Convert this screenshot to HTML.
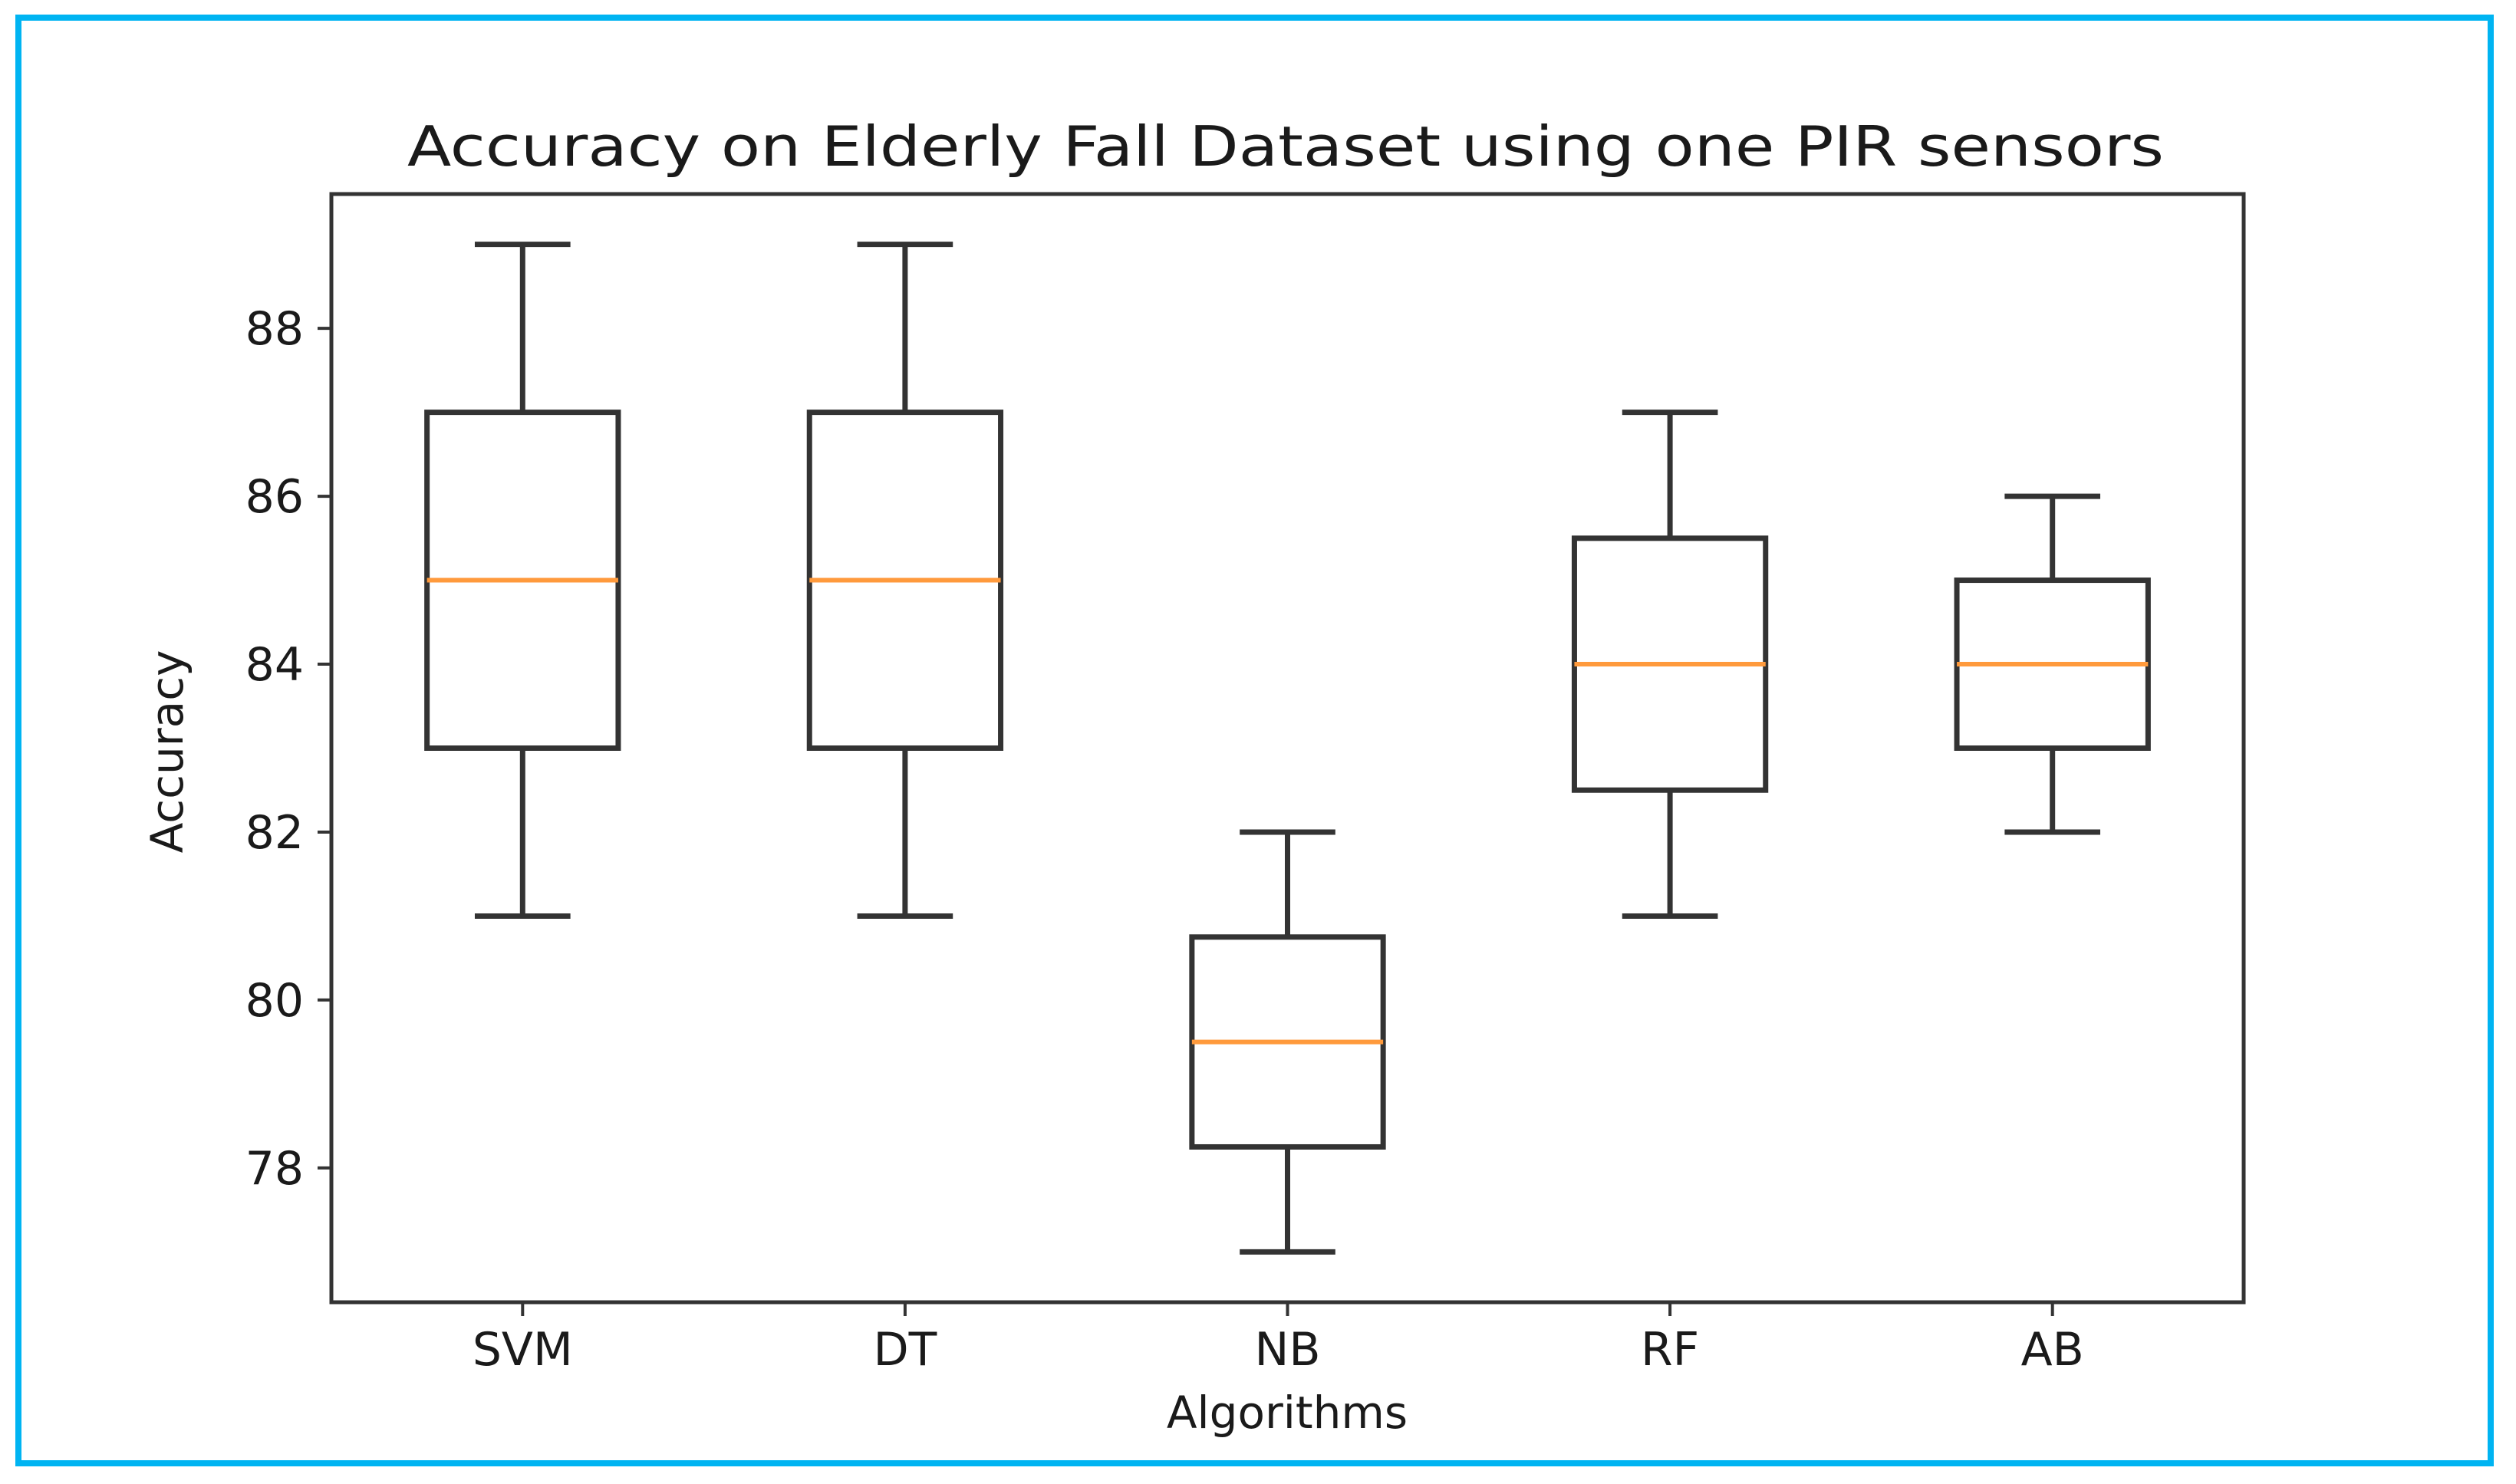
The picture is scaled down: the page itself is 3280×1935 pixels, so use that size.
<!DOCTYPE html>
<html><head><meta charset="utf-8"><style>
html,body{margin:0;padding:0;background:#fff;}
svg{display:block;}
text{font-family:"DejaVu Sans","Liberation Sans",sans-serif;fill:#1a1a1a;}
</style></head><body>
<svg id="chart" width="3280" height="1935" viewBox="0 0 3280 1935" xmlns="http://www.w3.org/2000/svg">
<rect x="0" y="0" width="3280" height="1935" fill="#fff"/>
<rect x="24" y="23" width="3223" height="1885" fill="none" stroke="#00B4F2" stroke-width="8"/>
<text x="1676" y="216" font-size="72" text-anchor="middle" textLength="2290" lengthAdjust="spacingAndGlyphs">Accuracy on Elderly Fall Dataset using one PIR sensors</text>
<g id="marks"></g>
<rect x="432" y="253" width="2493" height="1445" fill="none" stroke="#333" stroke-width="5"/>
<text x="1678" y="1862" font-size="58" text-anchor="middle">Algorithms</text>
<text x="0" y="0" font-size="58" text-anchor="middle" transform="translate(238,980) rotate(-90)">Accuracy</text>
</svg>
<script>
const categories = ["SVM","DT","NB","RF","AB"];
const whiskerLow = [81, 81, 77, 81, 82];
const q1 = [83, 83, 78.25, 82.5, 83];
const medians = [85, 85, 79.5, 84, 84];
const q3 = [87, 87, 80.75, 85.5, 85];
const whiskerHigh = [89, 89, 82, 87, 86];
const yTicks = [78, 80, 82, 84, 86, 88];

const NS = "http://www.w3.org/2000/svg";
const plotL = 432, plotR = 2925, plotT = 253, plotB = 1698;
const yMin = 76.4, yMax = 89.6;
function yScale(v){ return plotB - (v - yMin) / (yMax - yMin) * (plotB - plotT); }
const step = (plotR - plotL) / categories.length;
function xScale(i){ return plotL + step * (i + 0.5); }
const g = document.getElementById('marks');
const svg = document.getElementById('chart');
function line(x1,y1,x2,y2,stroke,w,name){
  const l = document.createElementNS(NS,'line');
  l.setAttribute('x1',x1);l.setAttribute('y1',y1);l.setAttribute('x2',x2);l.setAttribute('y2',y2);
  l.setAttribute('stroke',stroke);l.setAttribute('stroke-width',w);
  
  
  g.appendChild(l); return l;
}
function text(x,y,s,anchor,name){
  const t = document.createElementNS(NS,'text');
  t.setAttribute('x',x);t.setAttribute('y',y);t.setAttribute('font-size','60');t.setAttribute('text-anchor',anchor);
  t.textContent = s;
  
  
  svg.appendChild(t);
}
const dark = "#333";
categories.forEach((c,i)=>{
  const cx = xScale(i);
  const bw = step*0.5, cw = step*0.25;
  line(cx, yScale(whiskerLow[i]), cx, yScale(q1[i]), dark, 7, 'whisker-low-'+c.toLowerCase());
  line(cx, yScale(q3[i]), cx, yScale(whiskerHigh[i]), dark, 7, 'whisker-high-'+c.toLowerCase());
  line(cx-cw/2, yScale(whiskerLow[i]), cx+cw/2, yScale(whiskerLow[i]), dark, 7, 'cap-low-'+c.toLowerCase());
  line(cx-cw/2, yScale(whiskerHigh[i]), cx+cw/2, yScale(whiskerHigh[i]), dark, 7, 'cap-high-'+c.toLowerCase());
  const r = document.createElementNS(NS,'rect');
  r.setAttribute('x', cx-bw/2); r.setAttribute('y', yScale(q3[i]));
  r.setAttribute('width', bw); r.setAttribute('height', yScale(q1[i]) - yScale(q3[i]));
  r.setAttribute('fill','none'); r.setAttribute('stroke',dark); r.setAttribute('stroke-width',7);
  
  
  g.appendChild(r);
  line(cx-bw/2, yScale(medians[i]), cx+bw/2, yScale(medians[i]), "#ff9a3c", 6, 'median-'+c.toLowerCase());
  line(cx, plotB, cx, plotB+18, dark, 4, 'x-tick-'+c.toLowerCase());
  text(cx, plotB+82, c, 'middle', 'x-tick-label-'+c.toLowerCase());
});
yTicks.forEach(v=>{
  const y = yScale(v);
  line(plotL-18, y, plotL, y, dark, 4, 'y-tick-'+v);
  text(plotL-36, y+21, String(v), 'end', 'y-tick-label-'+v);
});
</script>
</body></html>
